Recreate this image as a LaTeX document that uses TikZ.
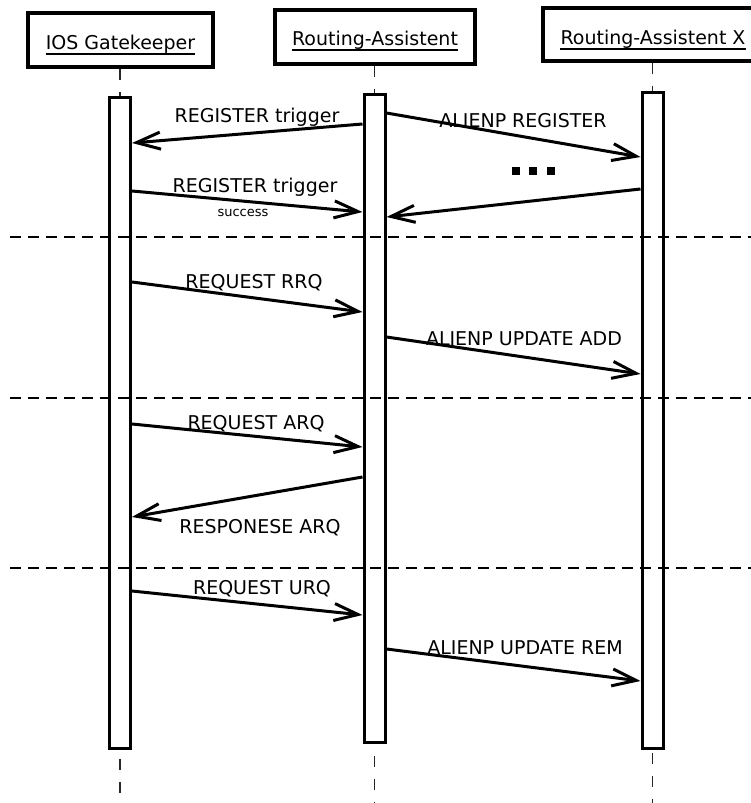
\documentclass[tikz,border=0pt]{standalone}
\usepackage{fontspec}
\setmainfont{DejaVu Sans}
\usetikzlibrary{arrows.meta,positioning,calc}
\tikzset{
  objbox/.style={draw,line width=3.2pt,fill=white,inner sep=0pt},
  objname/.style={anchor=base,inner sep=0pt,font=\fontsize{19}{22}\selectfont},
  actbar/.style={draw,line width=3pt,fill=white,minimum width=21pt,inner sep=0pt},
  life/.style={line width=1.5pt,draw=black!85,dash pattern=on 11pt off 12pt},
  msg/.style={-{Straight Barb[length=24pt,width=17pt]},line width=3pt},
  sep/.style={line width=2.8pt,dash pattern=on 11pt off 7pt},
  lbl/.style={anchor=base,inner sep=0pt,font=\fontsize{19}{22}\selectfont},
}

\begin{document}
\begin{tikzpicture}[x=1pt,y=-1pt]
  \useasboundingbox (0,0) rectangle (751,803);
  \clip (0,0) rectangle (751,803);
  % objects
  \node[objbox,minimum width=185pt,minimum height=54pt] (gk) at (120.5,40) {};
  \node[objbox,minimum width=200pt,minimum height=54pt] (ra) at (375,37) {};
  \node[objbox,minimum width=220pt,minimum height=53pt] (rx) at (653,34.5) {};
  \node[objname] (gkname) at (120.5,49) {IOS Gatekeeper};
  \node[objname] (raname) at (375,45) {Routing-Assistent};
  \node[objname] (rxname) at (653,44) {Routing-Assistent X};
  \foreach \n in {gkname,raname,rxname}
    \draw[line width=1.9pt] ($(\n.base west)+(0,5)$) -- ($(\n.base east)+(0,5)$);
  % lifelines
  \coordinate (gkend) at (120,803);
  \coordinate (raend) at (374.5,803);
  \coordinate (rxend) at (652.5,803);
  \draw[life] (gk.south -| gkend) -- (gkend);
  \draw[life] (ra.south -| raend) -- (raend);
  \draw[life] (rx.south -| rxend) -- (rxend);
  % activation bars
  \node[actbar,minimum height=651pt] (gkbar) at (120,422.5) {};
  \node[actbar,minimum height=648pt] (rabar) at (374.5,418) {};
  \node[actbar,minimum height=656pt] (rxbar) at (652.5,420) {};
  % phase separators
  \foreach \y in {237,398,568}
    \draw[sep] (10,\y) -- (751,\y);
  % messages
  \foreach \src/\ya/\dst/\yb in {
      rabar.west/124/gkbar.east/143,
      rabar.east/113/rxbar.west/157,
      rxbar.west/189/rabar.east/217,
      gkbar.east/191/rabar.west/212,
      gkbar.east/282/rabar.west/312,
      rabar.east/337/rxbar.west/374,
      gkbar.east/424/rabar.west/447,
      rabar.west/477/gkbar.east/517,
      gkbar.east/591/rabar.west/615,
      rabar.east/649/rxbar.west/681}
    \draw[msg] (\src |- 0,\ya) -- (\dst |- 0,\yb);
  \foreach \x/\y/\t [count=\i] in {
      257/122/REGISTER trigger,
      523/127/ALIENP REGISTER,
      255/192/REGISTER trigger,
      254/288/REQUEST RRQ,
      524/345/ALIENP UPDATE ADD,
      256/429/REQUEST ARQ,
      260/533/RESPONESE ARQ,
      262/594/REQUEST URQ,
      525/654/ALIENP UPDATE REM}
    \node[lbl] (msg\i) at (\x,\y) {\t};
  \node[lbl,font=\fontsize{13}{15}\selectfont] (ok) at (243,216) {success};
  % more registrations
  \foreach \x in {516,533,551}
    \fill (\x-4,167) rectangle (\x+4,175);
\end{tikzpicture}
\end{document}
